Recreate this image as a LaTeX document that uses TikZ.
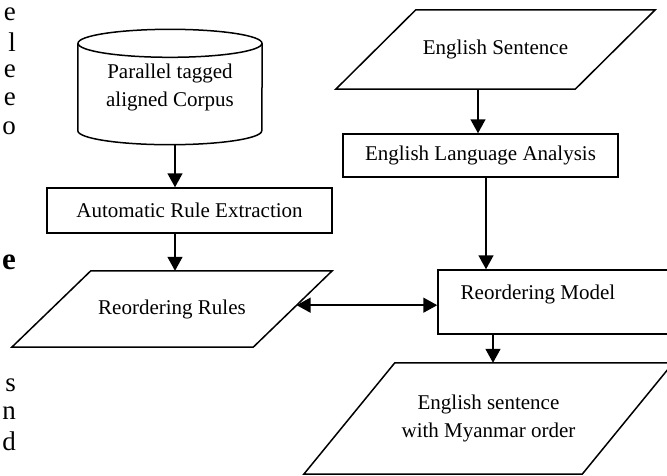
\documentclass[tikz,border=0pt]{standalone}
\usepackage{fontspec}
\setmainfont{Liberation Serif}
\usepackage{tikz}
\usetikzlibrary{arrows.meta,calc,positioning}

\begin{document}
\begin{tikzpicture}[x=1pt,y=-1pt,
  txt/.style={font=\fontsize{21}{28}\selectfont,align=center},
  box/.style={txt,draw,line width=1.5pt,inner sep=0pt},
  outline/.style={line width=1.5pt,line join=miter},
  arr/.style={-{Triangle[length=14pt,width=15pt]},line width=1.5pt},
  darr/.style={{Triangle[length=14pt,width=15pt]}-{Triangle[length=14pt,width=15pt]},line width=1.5pt},
  frag/.style={anchor=east,inner sep=0pt,font=\fontsize{27}{28}\selectfont}
]
\useasboundingbox (0,0) rectangle (667,475);
\clip (0,0) rectangle (667,475);

% cut-off page text on the left
\node[frag] (fa) at (16,14) {e};
\node[frag] (fb) at (16,42) {l};
\node[frag] (fc) at (16,71) {e};
\node[frag] (fd) at (16,99) {e};
\node[frag] (fe) at (16,128) {o};
\node[frag,font=\fontsize{31}{32}\selectfont\bfseries] (ff) at (16,262) {e};
\node[frag] (fg) at (16,385) {s};
\node[frag] (fh) at (16,413) {n};
\node[frag] (fi) at (16,441) {d};

% left column
\node[txt,minimum width=184pt,minimum height=115pt,inner sep=0pt] (corpus) at (170,87) {Parallel tagged\\aligned Corpus};
\draw[outline] ([yshift=-14pt]corpus.north) ellipse [x radius=92pt,y radius=14pt];
\draw[outline] ([yshift=-14pt]corpus.north west) -- ([yshift=14pt]corpus.south west)
  arc[start angle=180,end angle=360,x radius=92pt,y radius=14pt] -- ([yshift=-14pt]corpus.north east);
\node[box,minimum width=285pt,minimum height=45pt] (extract) at (189.5,210.5) {Automatic Rule Extraction};
\node[txt,minimum width=320pt,minimum height=76pt,inner sep=0pt] (rules) at (172,309) {Reordering Rules};
\draw[outline] (rules.south west) -- ([xshift=79pt]rules.north west) -- (rules.north east)
  -- ([xshift=-79pt]rules.south east) -- cycle;
\coordinate (rulesR) at ($([xshift=-79pt]rules.south east)!0.55!(rules.north east)$);

% right column
\node[txt,minimum width=319pt,minimum height=79pt,inner sep=0pt] (sentence) at (495.5,49.5) {English Sentence};
\draw[outline] (sentence.south west) -- ([xshift=80pt]sentence.north west) -- (sentence.north east)
  -- ([xshift=-80pt]sentence.south east) -- cycle;
\node[box,minimum width=275pt,minimum height=43pt] (analysis) at (480.5,155.5) {English Language Analysis};
\node[box,minimum width=232pt,minimum height=64pt] (model) at (554,302) {};
\node[txt] (modeltxt) at (538,294) {Reordering Model};
\node[txt,minimum width=369pt,minimum height=111pt,inner sep=0pt] (output) at (488.5,418.5) {English sentence\\with Myanmar order};
\draw[outline] (output.south west) -- ([xshift=91pt]output.north west) -- (output.north east)
  -- ([xshift=-91pt]output.south east) -- cycle;

\draw[arr] ([xshift=5pt]corpus.south) -- ([xshift=5pt]corpus.south |- extract.north);
\draw[arr] ([xshift=-14.5pt]extract.south) -- ([xshift=-14.5pt]extract.south |- rules.north);
\draw[arr] ([xshift=-2.5pt]analysis.north |- sentence.south) -- ([xshift=-2.5pt]analysis.north);
\draw[arr] ([xshift=5.5pt]analysis.south) -- ([xshift=5.5pt]analysis.south |- model.north);
\draw[arr] ([xshift=-61pt]model.south) -- ([xshift=-61pt]model.south |- output.north);
\draw[darr] (rulesR) -- (rulesR -| model.west);
\end{tikzpicture}
\end{document}
